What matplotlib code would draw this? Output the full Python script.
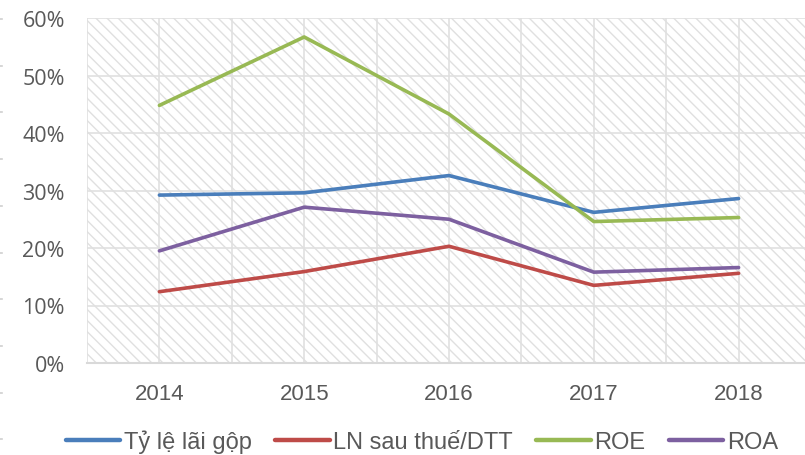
import matplotlib
matplotlib.use("Agg")
import matplotlib.pyplot as plt
from matplotlib.patches import Rectangle
from matplotlib.lines import Line2D

years = ["2014", "2015", "2016", "2017", "2018"]
gross_margin = [29.2, 29.6, 32.6, 26.2, 28.6]
net_margin = [12.4, 15.9, 20.3, 13.5, 15.6]
roe = [44.8, 56.7, 43.3, 24.6, 25.3]
roa = [19.5, 27.1, 25.0, 15.8, 16.6]
series_names = ["Tỷ lệ lãi gộp", "LN sau thuế/DTT", "ROE", "ROA"]
series_colors = ["#4A7EBB", "#BE4B48", "#98B954", "#7D60A0"]
yticks = [0, 10, 20, 30, 40, 50, 60]
ytick_labels = ["0%", "10%", "20%", "30%", "40%", "50%", "60%"]

plt.rcParams['font.family'] = ['Liberation Sans', 'DejaVu Sans']
plt.rcParams['hatch.linewidth'] = 1.0

fig = plt.figure(figsize=(8.05, 4.56), dpi=100)
ax = fig.add_axes([87/805, 1-364/456, (811-87)/805, (364-19)/456])

x = list(range(len(years)))
for vals, name, col in zip([gross_margin, net_margin, roe, roa], series_names, series_colors):
    ax.plot(x, vals, color=col, lw=2.6, label=name, solid_capstyle='round', zorder=3)

# hatched background
bg = Rectangle((0, 0), 1, 1, transform=ax.transAxes, facecolor='white',
               edgecolor='#E0E0E0', hatch='\\\\\\', lw=0, zorder=0)
ax.add_patch(bg)

ax.set_xlim(-0.5, 4.5)
ax.set_ylim(0, 60)
ax.set_xticks(x)
ax.set_xticklabels(years)
ax.set_xticks([i - 0.5 for i in range(len(years) + 1)], minor=True)
ax.set_yticks(yticks)
ax.set_yticklabels(ytick_labels, fontfamily=['Open Sans', 'DejaVu Sans'], fontsize=15.5)
ax.tick_params(axis='both', which='both', length=0, colors='#595959')
ax.tick_params(axis='x', pad=14.5, labelsize=16)
ax.tick_params(axis='y', pad=16)
ax.grid(True, which='both', axis='x', color='#E0E0E0', lw=1.2, zorder=1)
ax.grid(True, which='major', axis='y', color='#E0E0E0', lw=1.2, zorder=1)
ax.set_axisbelow(True)
for s in ['top', 'right', 'left']:
    ax.spines[s].set_visible(False)
ax.spines['bottom'].set_color('#D9D9D9')
ax.spines['bottom'].set_linewidth(1.5)

handles = [Line2D([], [], color=c, lw=3.2, solid_capstyle='round') for c in series_colors]
leg = fig.legend(handles, series_names, loc='center', bbox_to_anchor=(422/805, 1-442/456),
                 ncol=4, frameon=False, fontsize=17, handlelength=2.3,
                 handletextpad=0.15, columnspacing=1.0, borderaxespad=0)
for t in leg.get_texts():
    t.set_color('#595959')

# small tick marks at the very left edge
for i in range(10):
    yy = 1 - (20 + i * 46.7) / 456
    fig.add_artist(Line2D([0, 2/805], [yy, yy], transform=fig.transFigure, color='#D0D0D0', lw=1.2))

fig.savefig("out.png", dpi=100)
